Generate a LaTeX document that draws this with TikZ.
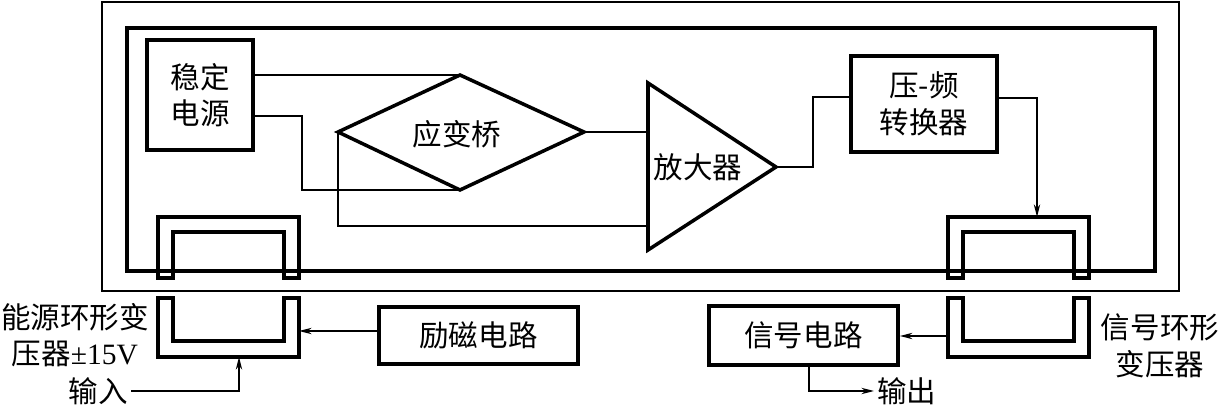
\documentclass[tikz,border=0pt]{standalone}
\usepackage{fontspec}
\setmainfont{Liberation Serif}
\newfontfamily\cjk{Noto Sans CJK SC}
\usetikzlibrary{calc, positioning, arrows.meta}

\begin{document}
\begin{tikzpicture}[x=0.025cm, y=-0.025cm, >={Stealth[length=9pt,width=4.5pt]},
  font=\cjk\fontsize{21}{26}\selectfont,
  box/.style={draw, line width=2.5pt, inner sep=0pt, align=center},
  wire/.style={line width=0.95pt},
  core/.style={line width=2.5pt}]
  \useasboundingbox (0,0) rectangle (1219,406);
  % housing and rotor
  \draw[line width=1.1pt] (102,2) rectangle (1179,291);
  \draw[line width=2.5pt] (127,28) rectangle (1155,271);
  % blocks
  \node[box, minimum width=2.65cm, minimum height=2.75cm] (src) at (200,95) {稳定\\电源};
  \node[box, minimum width=3.65cm, minimum height=2.4cm] (vf) at (924,104) {压-频\\转换器};
  \node[box, minimum width=4.975cm, minimum height=1.425cm] (exc) at (478.5,335.5) {励磁电路};
  \node[box, minimum width=4.725cm, minimum height=1.475cm] (sig) at (803.5,335.5) {信号电路};
  % bridge and amplifier
  \coordinate (dt) at (460,75);  \coordinate (dr) at (584,132);
  \coordinate (db) at (460,190); \coordinate (dl) at (338,132);
  \draw[core, line join=miter] (dt) -- (dr) -- (db) -- (dl) -- cycle;
  \node (bridge) at (457,134) {应变桥};
  \coordinate (a1) at (648,132); \coordinate (a2) at (648,226);
  \coordinate (tip) at (776,167);
  \draw[core, line join=miter] (648,83) -- (tip) -- (648,250) -- cycle;
  \node (amp) at (698,167) {放大器};
  % rotary transformers
  \foreach \cx in {158,948} {
    \draw[core] (\cx,278) -- (\cx,217) -- ++(141,0) -- ++(0,61) -- ++(-15,0) -- ++(0,-46)
      -- ++(-111,0) -- ++(0,46) -- cycle;
    \draw[core] (\cx,298) -- ++(15,0) -- ++(0,43) -- ++(111,0) -- ++(0,-43) -- ++(15,0)
      -- ++(0,59) -- ++(-141,0) -- cycle;
  }
  % labels
  \node[align=center, inner sep=0pt] (pwrlbl) at (75,335) {能源环形变\\压器{\rmfamily ±15V}};
  \node[align=center, inner sep=0pt] (siglbl) at (1160,346) {信号环形\\变压器};
  \node[anchor=east, inner sep=2pt] (in) at (131,391) {输入};
  \node[anchor=west, inner sep=2pt] (out) at (874,391) {输出};
  % connections
  \draw[wire] (src.east |- dt) -- (dt);
  \draw[wire] ($(src.east)+(0,21)$) -| ($(db)+(-158,0)$) -- (db);
  \draw[wire] (dr) -- (a1);
  \draw[wire] (dl) |- (a2);
  \draw[wire] (tip) -- ++(37,0) |- ($(vf.west)+(0,-7)$);
  \coordinate (ctop) at (1037,217);
  \draw[wire,->] ($(vf.east)+(0,-6)$) -| (ctop);
  \coordinate (pin) at (299,331);
  \draw[wire,->] (exc.west |- pin) -- (pin);
  \coordinate (sout) at (948,336);
  \draw[wire,->] (sout) -- (sout -| sig.east);
  \coordinate (pbot) at (239,357);
  \draw[wire,->] (in.east) -| (pbot);
  \draw[wire,->] ($(sig.south)+(5.5,0)$) |- (out.west);
\end{tikzpicture}
\end{document}
